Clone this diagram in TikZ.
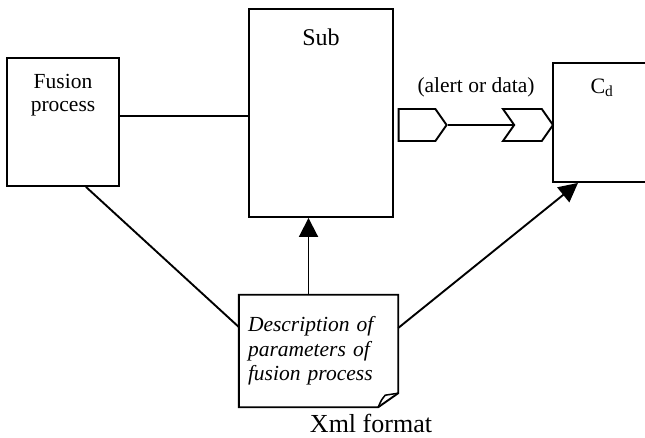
\documentclass[tikz,border=0pt]{standalone}
\usepackage{fontspec}
\setmainfont{Liberation Serif}
\usetikzlibrary{positioning,shapes.symbols,arrows.meta}

\begin{document}
\begin{tikzpicture}[x=1pt,y=-1pt,
boxnode/.style={rectangle, draw=black, line width=1.9pt, inner sep=0pt},
portnode/.style={signal, draw=black, line width=1.9pt, inner sep=0pt, signal pointer angle=110, minimum height=32pt},
txtnode/.style={inner sep=0pt, font=\fontsize{21.5}{23}\selectfont, align=center},
link/.style={line width=1.9pt},
arrowlink/.style={line width=1.9pt, -{Triangle[length=19pt,width=19pt]}},
]
\useasboundingbox (0,0) rectangle (645,438);
%Nodes
\node[boxnode, minimum width=112pt, minimum height=128pt] (fusion) at (63,122) {};
\node[boxnode, minimum width=144pt, minimum height=208pt] (sub)    at (321,113) {};
\node[boxnode, minimum width=98pt,  minimum height=119pt] (cd)     at (602,122.5) {};
\node[rectangle, minimum width=159pt, minimum height=112pt, inner xsep=9pt, inner ysep=0pt,
      text width=141pt, align=left, font=\fontsize{21.5}{24.5}\selectfont\itshape] (doc) at (318.5,351)
      {Description of\\parameters of\\fusion process};

\node[portnode, signal to=east, minimum width=48pt] (portout) at (417,125) {};
\node[portnode, signal from=west, signal to=east, minimum width=50pt] (portin) at (528,125) {};

\node[txtnode] (fusiontxt) at (63,95) {Fusion\\process};
\node[txtnode, font=\fontsize{24}{26}\selectfont] (subtxt) at (321,37) {Sub};
\node[txtnode, font=\fontsize{22}{24}\selectfont] (cdtxt) at (602,88) {C\textsubscript{d}};
\node[txtnode] (alerttxt) at (476,87) {(alert or data)};
\node[txtnode, font=\fontsize{26}{28}\selectfont] (xmltxt) at (371,423) {Xml format};

%Document outline with folded corner
\draw[link] (doc.south west) -- (doc.north west) -- (doc.north east)
  -- ([yshift=14pt]doc.south east) -- ([xshift=-20pt]doc.south east) -- cycle;
\draw[line width=1.5pt] ([xshift=-20pt]doc.south east) .. controls ([xshift=-17pt,yshift=7pt]doc.south east) .. ([xshift=-13pt,yshift=12pt]doc.south east)
  -- ([yshift=14pt]doc.south east);

%Lines
\draw[link] ([yshift=6pt]fusion.east) -- ([yshift=6pt]fusion.east -| sub.west);
\draw[link] (portout.east) -- (portin.west);
\draw[link] ([xshift=23pt]fusion.south) -- ([yshift=24pt]doc.west);
\draw[arrowlink] ([xshift=-10pt]doc.north) -- ([xshift=-10pt]doc.north |- sub.south);
\draw[arrowlink] ([yshift=23pt]doc.east) -- ([xshift=-24pt]cd.south);

\end{tikzpicture}
\end{document}
